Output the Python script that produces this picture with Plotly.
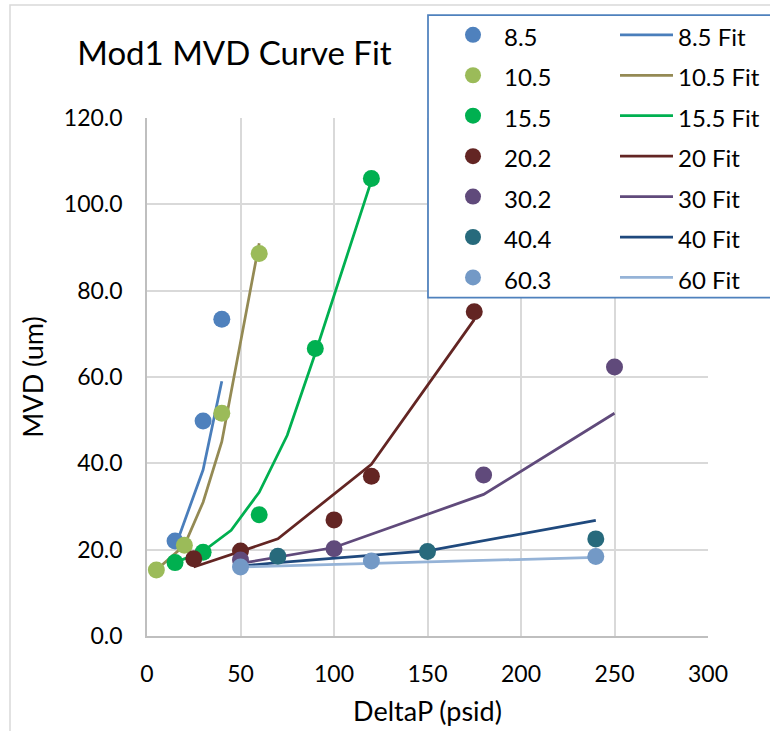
import plotly.graph_objects as go

# ---- measured points (DeltaP in psid, MVD in um) ----
x_85 = [15, 30, 40]
y_85 = [22.0, 49.8, 73.4]
x_105 = [5, 20, 40, 60]
y_105 = [15.3, 21.0, 51.6, 88.6]
x_155 = [15, 30, 60, 90, 120]
y_155 = [17.0, 19.4, 28.1, 66.6, 106.0]
x_202 = [25, 50, 100, 120, 175]
y_202 = [17.9, 19.7, 26.9, 37.0, 75.1]
x_302 = [50, 100, 180, 250]
y_302 = [17.6, 20.2, 37.3, 62.3]
x_404 = [70, 150, 240]
y_404 = [18.5, 19.6, 22.5]
x_603 = [50, 120, 240]
y_603 = [16.0, 17.4, 18.4]

# ---- curve-fit lines ----
fx_85 = [15, 30, 40]
fy_85 = [20.5, 38.5, 59.0]
fx_105 = [5, 20, 30, 40, 60]
fy_105 = [15.3, 21.0, 31.0, 45.0, 91.0]
fx_155 = [15, 30, 45, 60, 75, 90, 120]
fy_155 = [17.0, 19.6, 24.5, 33.3, 46.5, 65.5, 105.5]
fx_20 = [25, 70, 120, 175]
fy_20 = [16.0, 22.5, 39.8, 73.3]
fx_30 = [50, 100, 180, 250]
fy_30 = [16.8, 20.5, 32.8, 51.6]
fx_40 = [50, 70, 150, 240]
fy_40 = [16.2, 17.0, 19.7, 26.8]
fx_60 = [50, 120, 240]
fy_60 = [16.0, 16.8, 18.2]

point_names = ["8.5", "10.5", "15.5", "20.2", "30.2", "40.4", "60.3"]
fit_names = ["8.5 Fit", "10.5 Fit", "15.5 Fit", "20 Fit", "30 Fit", "40 Fit", "60 Fit"]
point_colors = ["#4F81BD", "#9BBB59", "#00B050", "#632523", "#604A7B", "#276A7C", "#7399C6"]
fit_colors = ["#4A7EBB", "#948A54", "#00B050", "#632523", "#604A7B", "#1F497D", "#95B3D7"]

x_ticks = [0, 50, 100, 150, 200, 250, 300]
y_ticks = [0, 20, 40, 60, 80, 100, 120]

points = [(x_85, y_85), (x_105, y_105), (x_155, y_155), (x_202, y_202),
          (x_302, y_302), (x_404, y_404), (x_603, y_603)]
fits = [(fx_85, fy_85), (fx_105, fy_105), (fx_155, fy_155), (fx_20, fy_20),
        (fx_30, fy_30), (fx_40, fy_40), (fx_60, fy_60)]

FONT = "Lato, 'Open Sans', sans-serif"
LEG_TXT = 24


def legend_label(s):
    return f"<span style='font-size:{LEG_TXT}px'>{s}</span>"


fig = go.Figure()

# fit lines sit underneath the markers
for (fx, fy), name, col in zip(fits, fit_names, fit_colors):
    fig.add_trace(go.Scatter(
        x=fx, y=fy, mode="lines", name=legend_label(name),
        line=dict(color=col, width=2.75), legend="legend2",
        hoverinfo="x+y",
    ))

for (px, py), name, col in zip(points, point_names, point_colors):
    fig.add_trace(go.Scatter(
        x=px, y=py, mode="markers", name=legend_label(name),
        marker=dict(color=col, size=17, line=dict(width=0)), legend="legend",
        hoverinfo="x+y",
    ))

# plot area in pixels: x 147..708, y 118..636
L, R, T, B = 147, 708, 118, 636
W, H = 770, 731
pw, ph = R - L, B - T


def px_x(p):
    return (p - L) / pw


def px_y(p):
    return (B - p) / ph


legend_common = dict(
    yanchor="top", xanchor="left", y=px_y(9.6),
    bgcolor="rgba(0,0,0,0)", borderwidth=0,
    font=dict(family=FONT, size=28.8, color="#000000"),
    tracegroupgap=0, traceorder="normal",
)

fig.update_layout(
    width=W, height=H,
    margin=dict(l=L, r=W - R, t=T, b=H - B, pad=0, autoexpand=False),
    paper_bgcolor="white", plot_bgcolor="white",
    font=dict(family=FONT, color="#000000"),
    showlegend=True,
    title=dict(
        text="Mod1 MVD Curve Fit", xref="container", yref="container",
        x=234.5 / W, xanchor="center", y=1 - 53.4 / H, yanchor="middle",
        font=dict(family=FONT, size=33, color="#000000"),
    ),
    legend=dict(x=px_x(442), itemwidth=52, **legend_common),
    legend2=dict(x=px_x(615), itemwidth=53, **legend_common),
    xaxis=dict(
        range=[0, 300], tickvals=x_ticks, ticktext=[str(v) for v in x_ticks],
        showgrid=True, gridcolor="#D9D9D9", gridwidth=1.5,
        showline=True, linecolor="#BFBFBF", linewidth=1.5,
        zeroline=False, ticks="", ticklabelstandoff=17, automargin=False,
        tickfont=dict(family=FONT, size=23, color="#000000"),
        title=dict(text="DeltaP (psid)", standoff=16,
                   font=dict(family=FONT, size=27, color="#000000")),
    ),
    yaxis=dict(
        range=[0, 120], tickvals=y_ticks, ticktext=[f"{v:.1f}" for v in y_ticks],
        showgrid=True, gridcolor="#D9D9D9", gridwidth=1.5,
        showline=True, linecolor="#BFBFBF", linewidth=1.5,
        zeroline=False, ticks="", ticklabelstandoff=18, automargin=False,
        tickfont=dict(family=FONT, size=23, color="#000000"),
        title=dict(text="MVD (um)", standoff=12,
                   font=dict(family=FONT, size=27, color="#000000")),
    ),
    shapes=[
        # chart area frame
        dict(type="rect", xref="paper", yref="paper", layer="below",
             x0=px_x(10), x1=px_x(820), y0=px_y(780), y1=px_y(5),
             line=dict(color="#D9D9D9", width=1.5), fillcolor="rgba(0,0,0,0)"),
        # legend box
        dict(type="rect", xref="paper", yref="paper", layer="above",
             x0=px_x(428), x1=px_x(820), y0=px_y(297.5), y1=px_y(15),
             line=dict(color="#4F81BD", width=1.75), fillcolor="white"),
    ],
)

fig.write_html("out.html")
